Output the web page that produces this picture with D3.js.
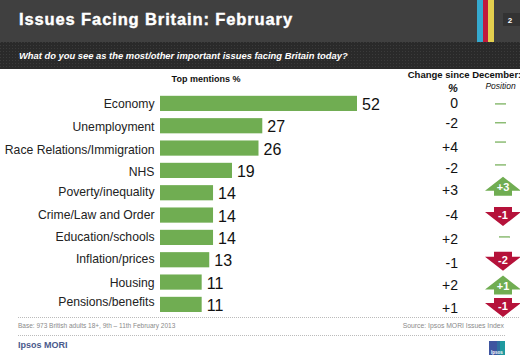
<!DOCTYPE html>
<html>
<head>
<meta charset="utf-8">
<script src="https://cdn.jsdelivr.net/npm/d3@7"></script>
<style>
  html, body { margin: 0; padding: 0; background: #fff; overflow: hidden; }
  svg { display: block; }
  text { font-family: "Liberation Sans", Arial, sans-serif; }
</style>
</head>
<body>
<div id="chart"></div>
<script>
const issues = ["Economy", "Unemployment", "Race Relations/Immigration", "NHS", "Poverty/inequality",
  "Crime/Law and Order", "Education/schools", "Inflation/prices", "Housing", "Pensions/benefits"];
const mentions = [52, 27, 26, 19, 14, 14, 14, 13, 11, 11];
const changePct = ["0", "-2", "+4", "-2", "+3", "-4", "+2", "-1", "+2", "+1"];
const changePos = [0, 0, 0, 0, 3, -1, 0, -2, 1, -1];

const width = 520, height = 360;
const green = "#70ad52", red = "#b5123a";

const svg = d3.select("#chart").append("svg")
  .attr("width", width)
  .attr("height", height);

// dotted texture of the subtitle band
const dots = svg.append("defs").append("pattern")
  .attr("id", "dots").attr("width", 3).attr("height", 3)
  .attr("patternUnits", "userSpaceOnUse");
dots.append("rect").attr("width", 3).attr("height", 3).attr("fill", "#2a2a2a");
dots.append("rect").attr("width", 1).attr("height", 1).attr("fill", "#3b3b3b");

// header
svg.append("rect").attr("width", width).attr("height", 42).attr("fill", "#404040");
svg.append("rect").attr("y", 42).attr("width", width).attr("height", 27).attr("fill", "url(#dots)");
[["#35a9cf", 477, 6], ["#c01a3c", 483, 5], ["#e3cf4e", 488, 6]].forEach(s => {
  svg.append("rect").attr("x", s[1]).attr("width", s[2]).attr("height", 42).attr("fill", s[0]);
});
svg.append("rect").attr("x", 503).attr("y", 13).attr("width", 17).attr("height", 13).attr("fill", "#333");
svg.append("text").attr("x", 510).attr("y", 23).attr("text-anchor", "middle")
  .attr("fill", "#fff").style("font-size", "8px").style("font-weight", "bold").text("2");

svg.append("text").attr("x", 19).attr("y", 25)
  .attr("fill", "#fff").attr("stroke", "#fff").attr("stroke-width", 0.4)
  .style("font-size", "16.5px").style("font-weight", "bold").style("letter-spacing", "0.88px")
  .text("Issues Facing Britain: February");
svg.append("text").attr("x", 19).attr("y", 59)
  .attr("fill", "#fff")
  .style("font-size", "9.4px").style("font-weight", "bold").style("font-style", "italic")
  .text("What do you see as the most/other important issues facing Britain today?");

// column titles
const heads = [
  { x: 206, y: 81.5, size: 9, style: "normal", weight: "bold", t: "Top mentions %" },
  { x: 464.5, y: 78, size: 9.5, style: "normal", weight: "bold", t: "Change since December:" },
  { x: 453, y: 92, size: 11, style: "italic", weight: "bold", t: "%" },
  { x: 500.5, y: 89, size: 8.5, style: "italic", weight: "normal", t: "Position" }
];
svg.selectAll("text.head").data(heads).enter().append("text")
  .attr("class", "head")
  .attr("x", d => d.x).attr("y", d => d.y)
  .attr("text-anchor", "middle")
  .attr("fill", "#111")
  .style("font-size", d => d.size + "px")
  .style("font-style", d => d.style)
  .style("font-weight", d => d.weight)
  .text(d => d.t);

// bars
const x = d3.scaleLinear().domain([0, 52]).range([160, 357]);
const y = d3.scaleBand().domain(issues).range([95.8, 312]).paddingInner(0.32);
const mid = d => y(d) + y.bandwidth() / 2;

svg.selectAll("rect.bar").data(issues).enter().append("rect")
  .attr("class", "bar")
  .attr("x", x(0))
  .attr("y", d => y(d))
  .attr("width", (d, i) => x(mentions[i]) - x(0))
  .attr("height", y.bandwidth())
  .attr("fill", green);

// the slide's text boxes don't sit exactly on the bars, so nudge per row
const labelNudge = [4.5, 5, 5.5, 6, 3, 4, 4, 3, 5, 1.5];
svg.selectAll("text.issue").data(issues).enter().append("text")
  .attr("class", "issue")
  .attr("x", 154.5)
  .attr("y", (d, i) => mid(d) + labelNudge[i])
  .attr("text-anchor", "end")
  .attr("fill", "#222")
  .style("font-size", "12.2px")
  .text(d => d);

svg.selectAll("text.value").data(issues).enter().append("text")
  .attr("class", "value")
  .attr("x", (d, i) => x(mentions[i]) + 5)
  .attr("y", d => mid(d) + 6.5)
  .attr("fill", "#111")
  .style("font-size", "16px")
  .text((d, i) => mentions[i]);

// change column
const pctNudge = [4.5, 2, 4, 2.5, 2, 5, 6.5, 8, 8, 8.5];
svg.selectAll("text.pct").data(issues).enter().append("text")
  .attr("class", "pct")
  .attr("x", 458)
  .attr("y", (d, i) => mid(d) + pctNudge[i])
  .attr("text-anchor", "end")
  .attr("fill", "#111")
  .style("font-size", "14px")
  .text((d, i) => changePct[i]);

// position column: dash for no change, arrow otherwise
const posNudge = [0.5, -3, -6, -5.5, -6.5, 1.5, -0.5, 1.5, 3, 3];
const rows = issues.map((d, i) => ({ v: changePos[i], cy: mid(d) + posNudge[i], dx: i === 6 ? 4 : 0 }));

svg.selectAll("line.same").data(rows.filter(r => r.v === 0)).enter().append("line")
  .attr("class", "same")
  .attr("x1", d => 495 + d.dx).attr("x2", d => 506 + d.dx)
  .attr("y1", d => d.cy).attr("y2", d => d.cy)
  .attr("stroke", "#8cbc74").attr("stroke-width", 1.5);

const arrow = d3.line();
const arrows = svg.selectAll("g.arrow").data(rows.filter(r => r.v !== 0)).enter().append("g")
  .attr("class", "arrow")
  .attr("transform", d => `translate(503,${d.cy})`);
arrows.append("path")
  .attr("d", d => {
    const s = d.v > 0 ? 1 : -1;
    return arrow([[0, -9.5 * s], [18, 4.5 * s], [9, 4.5 * s], [9, 9.5 * s], [-9, 9.5 * s], [-9, 4.5 * s], [-18, 4.5 * s]]) + "Z";
  })
  .attr("fill", d => d.v > 0 ? green : red);
arrows.append("text")
  .attr("y", d => d.v > 0 ? 4.5 : 2.5)
  .attr("text-anchor", "middle")
  .attr("fill", "#fff")
  .style("font-size", "11px").style("font-weight", "bold")
  .text(d => (d.v > 0 ? "+" : "") + d.v);

// footer
svg.append("line").attr("x1", 18).attr("x2", 520).attr("y1", 317.5).attr("y2", 317.5)
  .attr("stroke", "#bbb").attr("stroke-dasharray", "1,1");
svg.append("line").attr("x1", 18).attr("x2", 505).attr("y1", 335.5).attr("y2", 335.5)
  .attr("stroke", "#bbb").attr("stroke-dasharray", "1,1");
svg.append("text").attr("x", 18).attr("y", 328).attr("fill", "#8a8a8a").style("font-size", "6.5px")
  .text("Base: 973 British adults 18+, 9th – 11th February 2013");
svg.append("text").attr("x", 504).attr("y", 328).attr("text-anchor", "end").attr("fill", "#8a8a8a").style("font-size", "6.8px")
  .text("Source: Ipsos MORI Issues Index");
svg.append("text").attr("x", 18).attr("y", 348).attr("fill", "#4a5a8c")
  .style("font-size", "9px").style("font-weight", "bold").text("Ipsos MORI");

// logo
svg.append("rect").attr("x", 489).attr("y", 341).attr("width", 16).attr("height", 14).attr("fill", "#2f6f9f");
svg.append("rect").attr("x", 489).attr("y", 341).attr("width", 8).attr("height", 14).attr("fill", "#3f55a0");
svg.append("rect").attr("x", 500).attr("y", 341).attr("width", 5).attr("height", 14).attr("fill", "#1f9aa0");
svg.append("text").attr("x", 497).attr("y", 354).attr("text-anchor", "middle").attr("fill", "#fff")
  .style("font-size", "4.5px").style("font-weight", "bold").text("Ipsos");
</script>
</body>
</html>
